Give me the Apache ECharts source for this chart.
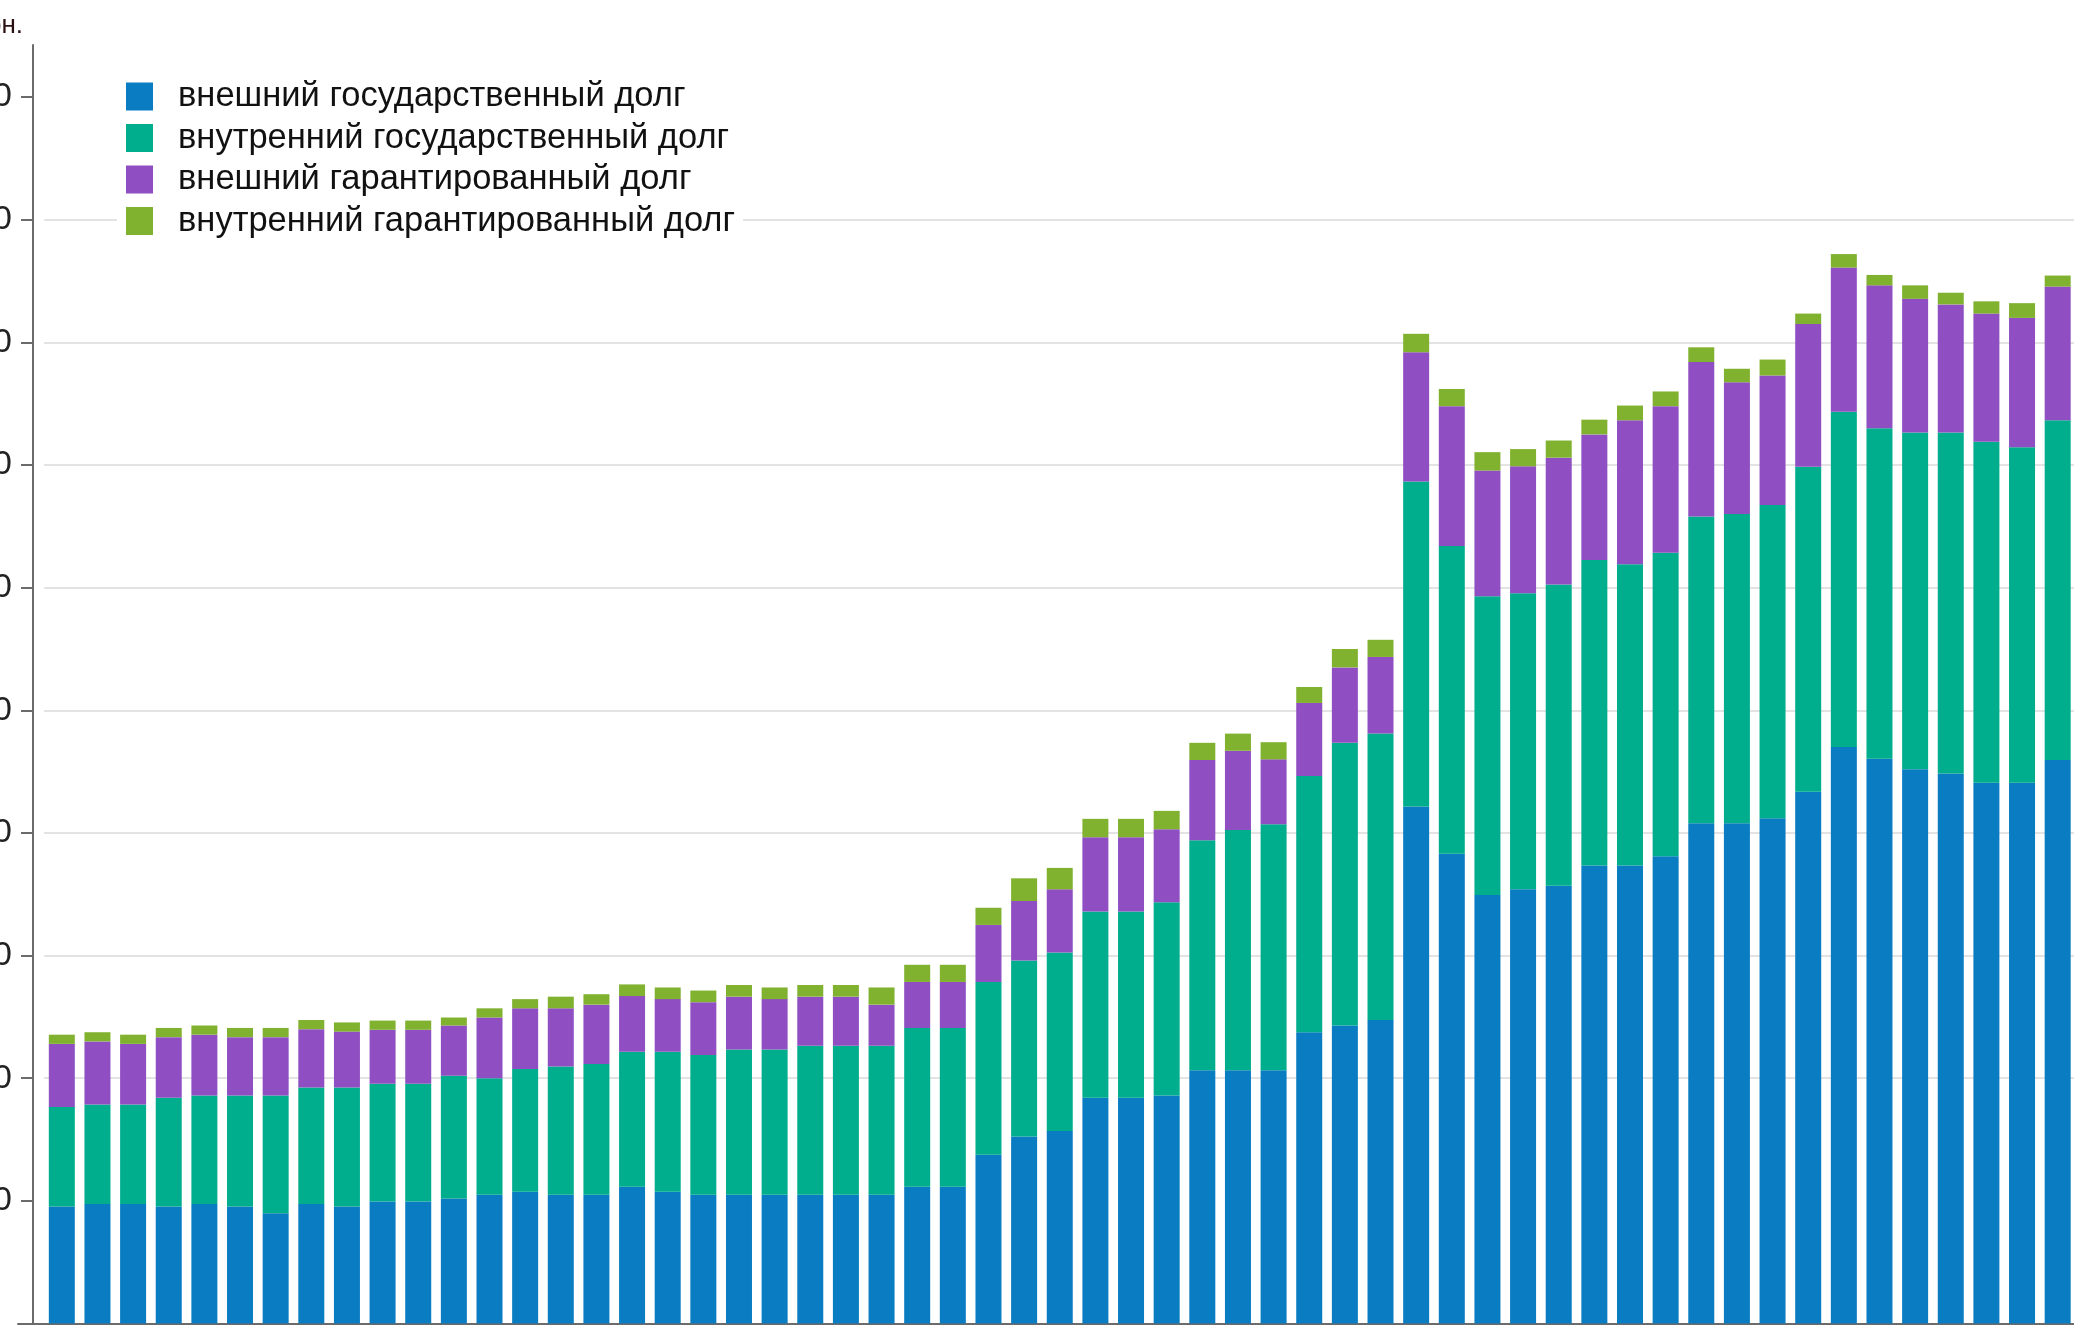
<!DOCTYPE html>
<html>
<head>
<meta charset="utf-8">
<script src="https://cdn.jsdelivr.net/npm/echarts@6/dist/echarts.min.js"></script>
<style>
  html, body { margin: 0; padding: 0; background: #fff; }
  #chart-1 { width: 2074px; height: 1325px; }
</style>
</head>
<body>
<div id="chart-1"></div>
<script>
/************************        Государственный долг, млрд грн.        **************************/

// months: Dec 2011 .. Aug 2016
var months = [];
for (var y = 2011, m = 12; months.length < 57; m++) {
    if (m > 12) { m = 1; y++; }
    months.push((m < 10 ? '0' : '') + m + '/' + y);
}

var seriesNames = [
    'внешний государственный долг',
    'внутренний государственный долг',
    'внешний гарантированный долг',
    'внутренний гарантированный долг'
];

var extGov = [191, 195, 195, 191, 195, 191, 180, 195, 191, 199,
              199, 204, 210, 215, 210, 210, 223, 215, 210, 210,
              210, 210, 210, 210, 223, 223, 275, 305, 314, 368,
              368, 372, 413, 413, 413, 475, 486, 495, 843, 766,
              699, 708, 714, 747, 747, 762, 816, 816, 824, 867,
              940, 921, 904, 897, 882, 882, 919];

var intGov = [162, 162, 162, 177, 177, 181, 192, 190, 194, 192,
              192, 200, 190, 200, 209, 213, 220, 228, 228, 237,
              237, 243, 243, 243, 259, 259, 282, 287, 291, 304,
              304, 315, 375, 392, 401, 418, 461, 467, 530, 502,
              487, 483, 491, 498, 491, 495, 500, 504, 511, 530,
              547, 539, 549, 556, 556, 547, 554];

var extGuar = [103, 103, 99, 99, 99, 95, 95, 95, 91, 88,
               88, 82, 99, 99, 95, 97, 91, 86, 86, 86,
               82, 80, 80, 67, 75, 75, 93, 97, 103, 121,
               121, 119, 131, 129, 106, 119, 123, 125, 211, 228,
               205, 207, 207, 205, 235, 239, 252, 215, 211, 233,
               235, 233, 218, 209, 209, 211, 218];

var intGuar = [15, 15, 15, 15, 15, 15, 15, 15, 15, 15,
               15, 13, 15, 15, 19, 17, 19, 19, 19, 19,
               19, 19, 19, 28, 28, 28, 28, 37, 35, 30,
               30, 30, 28, 28, 28, 26, 30, 28, 30, 28,
               30, 28, 28, 24, 24, 24, 24, 22, 26, 17,
               22, 17, 22, 19, 20, 24, 18];

var tickValues = [200, 400, 600, 800, 1000, 1200, 1400, 1600, 1800, 2000];

var colors = ['#0a7cc2', '#00ae8d', '#8f4fc2', '#80b230'];
var font = "'Liberation Sans', Arial, sans-serif";

var dom = document.getElementById("chart-1");
var myChart = echarts.init(dom);
var option = {
    animation: false,
    color: colors,
    textStyle: { fontFamily: font },
    legend: {
        orient: 'vertical',
        left: 117,
        top: 71,
        padding: [5, 8, 5, 9],
        backgroundColor: '#fff',
        itemWidth: 27,
        itemHeight: 28,
        itemGap: 0.5,
        icon: 'rect',
        selectedMode: false,
        textStyle: {
            fontFamily: font,
            fontSize: 34.5,
            lineHeight: 41,
            color: '#111',
            padding: [0, 0, 0, 20]
        },
        data: seriesNames
    },
    grid: [
        { left: 44, width: 2031.5, top: 45, bottom: 1.5, outerBoundsMode: 'none', containLabel: false },
        { left: 18, width: 26, top: 45, bottom: 1.5, outerBoundsMode: 'none', containLabel: false }
    ],
    xAxis: [
        {
            type: 'category',
            gridIndex: 0,
            data: months,
            axisLine: { lineStyle: { color: '#6b6b6b', width: 2 } },
            axisTick: { show: false },
            axisLabel: { show: false }
        },
        {
            type: 'category',
            gridIndex: 1,
            data: [''],
            axisLine: { lineStyle: { color: '#6b6b6b', width: 2 } },
            axisTick: { show: false },
            axisLabel: { show: false }
        }
    ],
    yAxis: [
        {
            type: 'value',
            gridIndex: 0,
            min: 0,
            max: 2085,
            interval: 200,
            offset: 11,
            name: 'млрд грн.',
            nameLocation: 'end',
            nameGap: 6,
            nameTextStyle: {
                fontFamily: font,
                fontSize: 26,
                color: '#2a1010',
                align: 'right',
                verticalAlign: 'bottom',
                padding: [0, 10, 0, 0]
            },
            axisLine: { show: true, lineStyle: { color: '#6b6b6b', width: 2 } },
            axisTick: {
                show: true,
                length: 12,
                customValues: tickValues,
                lineStyle: { color: '#6b6b6b', width: 2 }
            },
            axisLabel: {
                fontFamily: font,
                fontSize: 34,
                color: '#222',
                margin: 21,
                customValues: tickValues
            },
            splitLine: {
                show: true,
                showMinLine: false,
                showMaxLine: false,
                lineStyle: { color: '#e3e3e3', width: 2 }
            }
        },
        { type: 'value', gridIndex: 1, show: false }
    ],
    series: [
        { name: seriesNames[0], type: 'bar', stack: 'debt', barWidth: 26, data: extGov },
        { name: seriesNames[1], type: 'bar', stack: 'debt', barWidth: 26, data: intGov },
        { name: seriesNames[2], type: 'bar', stack: 'debt', barWidth: 26, data: extGuar },
        { name: seriesNames[3], type: 'bar', stack: 'debt', barWidth: 26, data: intGuar }
    ]
};

myChart.setOption(option);
</script>
</body>
</html>
